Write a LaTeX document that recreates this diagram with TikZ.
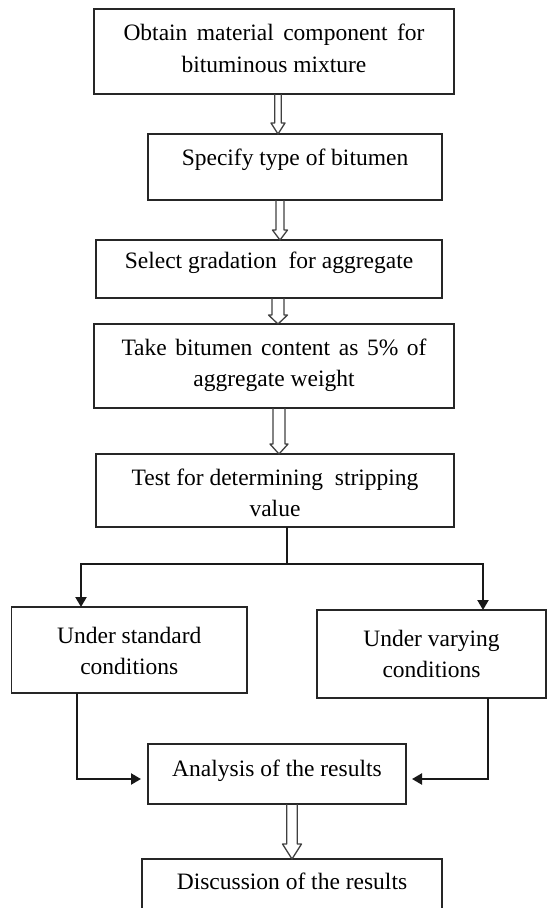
\documentclass[tikz,border=0pt]{standalone}
\usepackage{fontspec}
\setmainfont{Liberation Serif}
\usetikzlibrary{calc,arrows.meta}
\tikzset{
  flowbox/.style={draw=black!85, line width=1.7pt, inner sep=0pt, outer sep=0pt},
  conn/.style={draw=black!90, line width=2.2pt},
  solidtip/.style={-{Triangle[width=11pt,length=10pt]}},
  hollow/.style={draw=black!75, line width=1.3pt, line join=round},
}
\newcommand{\btext}[4]{\parbox[c][#1pt][t]{#2pt}{\centering\fontsize{23.5}{31.5}\selectfont\rule{0pt}{#3pt}#4}}
\newcommand{\hollowarrow}[6]{%
  \draw[hollow] let \p1=(#1.south), \p2=(#2.north) in
    (#3pt-#4pt,\y1) -- (#3pt-#4pt,\y2+#6pt) -- (#3pt-#5pt,\y2+#6pt) -- (#3pt,\y2)
    -- (#3pt+#5pt,\y2+#6pt) -- (#3pt+#4pt,\y2+#6pt) -- (#3pt+#4pt,\y1);}
\begin{document}
\begin{tikzpicture}[x=1pt,y=-1pt]
\useasboundingbox (0,0) rectangle (547,908);

\node[flowbox] (b1) at (274,51.5) {\btext{85}{360}{31.5}{\makebox[301pt][s]{Obtain material component for}\\bituminous mixture}};
\node[flowbox] (b2) at (295,167) {\btext{66}{294}{31}{Specify type of bitumen}};
\node[flowbox] (b3) at (269,269) {\btext{58}{346}{28.5}{Select gradation\ \ for aggregate}};
\node[flowbox] (b4) at (274,366) {\btext{84}{360}{31}{\makebox[305pt][s]{Take bitumen content as 5\% of}\\aggregate weight}};
\node[flowbox] (b5) at (275,490.5) {\btext{73}{358}{31}{Test for determining\ \ stripping\\value}};
\node[flowbox] (b6) at (129.25,650) {\btext{86}{235.5}{36}{Under standard\\conditions}};
\node[flowbox] (b7) at (431.5,654) {\btext{88}{229}{36}{Under varying\\conditions}};
\node[flowbox] (b8) at (277,774) {\btext{60}{258}{32}{Analysis of the results}};
\node[flowbox] (b9) at (292,885.5) {\btext{53}{300}{30}{Discussion of the results}};

\hollowarrow{b1}{b2}{278}{3.3}{7}{11}
\hollowarrow{b2}{b3}{280}{4}{7.5}{10}
\hollowarrow{b3}{b4}{278}{6}{9.5}{9}
\hollowarrow{b4}{b5}{279}{6}{9}{10}
\hollowarrow{b8}{b9}{292}{5.2}{9.5}{15}

\coordinate (fork) at (287,564);
\coordinate (fl) at (81,564);
\coordinate (fr) at (483,564);
\draw[conn] (b5.south -| fork) -- (fork);
\draw[conn,solidtip] (fork) -- (fl) -- (fl |- b6.north);
\draw[conn,solidtip] (fork) -- (fr) -- (fr |- b7.north);

\coordinate (jl) at (77,779);
\coordinate (jr) at (488,779);
\draw[conn,solidtip,shorten >=7pt] (jl |- b6.south) -- (jl) -- (jl -| b8.west);
\draw[conn,solidtip,shorten >=6pt] (jr |- b7.south) -- (jr) -- (jr -| b8.east);
\end{tikzpicture}
\end{document}
